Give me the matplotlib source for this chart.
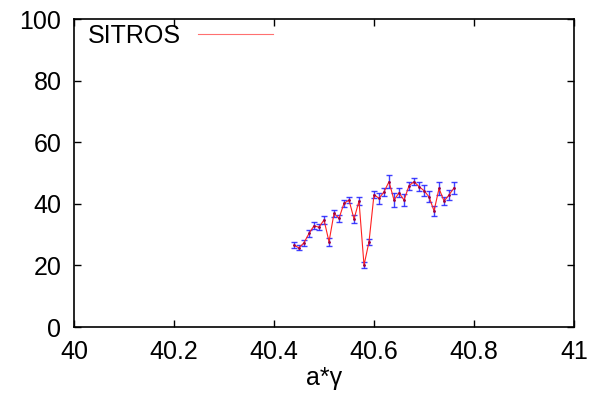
import matplotlib
matplotlib.use("Agg")
import matplotlib.pyplot as plt
from matplotlib.lines import Line2D

# data
a_gamma = [40.44, 40.45, 40.46, 40.47, 40.48, 40.49, 40.50, 40.51, 40.52, 40.53,
           40.54, 40.55, 40.56, 40.57, 40.58, 40.59, 40.60, 40.61, 40.62, 40.63,
           40.64, 40.65, 40.66, 40.67, 40.68, 40.69, 40.70, 40.71, 40.72, 40.73,
           40.74, 40.75, 40.76]
sitros = [26.6, 25.7, 27.4, 30.4, 32.9, 32.4, 34.8, 27.7, 36.9, 35.3,
          40.2, 41.2, 35.1, 40.9, 20.1, 27.7, 43.0, 41.8, 43.9, 47.2,
          41.2, 43.6, 41.2, 45.9, 47.2, 45.6, 44.3, 42.3, 37.7, 45.0,
          40.9, 42.9, 45.2]
errors = [1.0, 0.8, 1.0, 1.2, 1.2, 1.0, 1.2, 1.3, 1.2, 1.2,
          1.2, 1.0, 1.3, 1.2, 1.0, 1.0, 1.2, 1.8, 1.3, 2.2,
          2.2, 1.5, 2.0, 1.3, 1.2, 1.5, 1.8, 1.8, 1.5, 2.0,
          1.2, 1.5, 2.0]

plt.rcParams['font.family'] = ['Liberation Sans', 'DejaVu Sans']
plt.rcParams['font.size'] = 18

fig = plt.figure(figsize=(5.89, 3.96), dpi=100)
ax = fig.add_axes([0.1256, 0.174, 0.849, 0.778])

ax.errorbar(a_gamma, sitros, yerr=errors, fmt='none', ecolor='#2020ff',
            elinewidth=1.0, capsize=2.5, capthick=1.0, alpha=0.85)
ax.plot(a_gamma, sitros, color='#ff2020', lw=0.8)
ax.plot(a_gamma, sitros, ls='none', marker='.', ms=2, color='#a00040')

ax.set_xlim(40, 41)
ax.set_ylim(0, 100)
ax.set_xticks([40, 40.2, 40.4, 40.6, 40.8, 41])
ax.set_xticklabels(['40', '40.2', '40.4', '40.6', '40.8', '41'])
ax.set_yticks([0, 20, 40, 60, 80, 100])
ax.tick_params(direction='in', top=True, right=True, length=5, width=1, pad=9)
for s in ax.spines.values():
    s.set_linewidth(1.2)

ax.set_xlabel('a*γ', labelpad=2)

handle = Line2D([], [], color='#ff7070', lw=0.8)
ax.legend([handle], ['SITROS'], loc='upper left', frameon=False, markerfirst=False,
          handlelength=3.0, handletextpad=0.7, borderaxespad=0.05,
          bbox_to_anchor=(0.005, 1.02), fontsize=18)

fig.savefig('out.png', dpi=100)
